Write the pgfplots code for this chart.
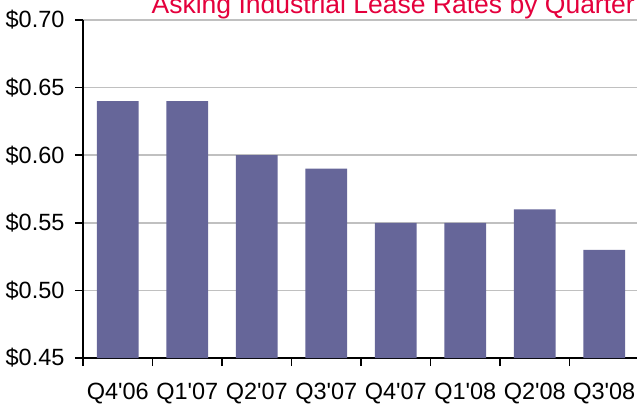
\documentclass[border=0pt]{standalone}
\usepackage{pgfplots}
\pgfplotsset{compat=1.18}
\usepackage{fontspec}
\setmainfont{Liberation Sans}
\definecolor{barcol}{RGB}{102,102,153}
\definecolor{titlered}{RGB}{228,0,60}
\definecolor{gridgray}{RGB}{192,192,192}
\begin{document}
\begin{tikzpicture}
\clip (-83bp,-47bp) rectangle (554bp,358bp);
\begin{axis}[
  at={(0,0)}, anchor=south west,
  scale only axis,
  width=556bp, height=338bp,
  xmin=-0.5, xmax=7.5,
  ymin=0.45, ymax=0.70,
  axis x line*=bottom,
  axis y line*=left,
  axis line style={black, line width=1.6bp, -},
  xtick={0,...,7},
  xticklabels={Q4\textquotesingle06,Q1\textquotesingle07,Q2\textquotesingle07,Q3\textquotesingle07,Q4\textquotesingle07,Q1\textquotesingle08,Q2\textquotesingle08,Q3\textquotesingle08},
  minor xtick={-0.5,0.5,...,7.5},
  major x tick style={draw=none},
  minor x tick style={black, line width=1.6bp},
  minor tick length=8bp,
  ytick={0.45,0.50,0.55,0.60,0.65,0.70},
  yticklabels={\$0.45,\$0.50,\$0.55,\$0.60,\$0.65,\$0.70},
  y tick style={black, line width=1.6bp},
  major tick length=8bp,
  tick align=outside,
  ymajorgrids,
  grid style={gridgray, line width=1.6bp},
  tick label style={font=\fontsize{23.5bp}{27bp}\selectfont},
  xticklabel style={yshift=-14bp},
  yticklabel style={xshift=-7bp},
  /pgf/number format/assume math mode=true,
  title={Asking Industrial Lease Rates by Quarter},
  title style={at={(rel axis cs:0.558,1.0237)}, anchor=base, inner sep=0pt, yshift=-7bp,
    text=titlered, font=\fontsize{26.5bp}{30bp}\selectfont},
]
\addplot[ybar, bar width=0.6, fill=barcol, draw=none] coordinates {
  (0,0.64) (1,0.64) (2,0.60) (3,0.59) (4,0.55) (5,0.55) (6,0.56) (7,0.53)
};
\end{axis}
\end{tikzpicture}
\end{document}
